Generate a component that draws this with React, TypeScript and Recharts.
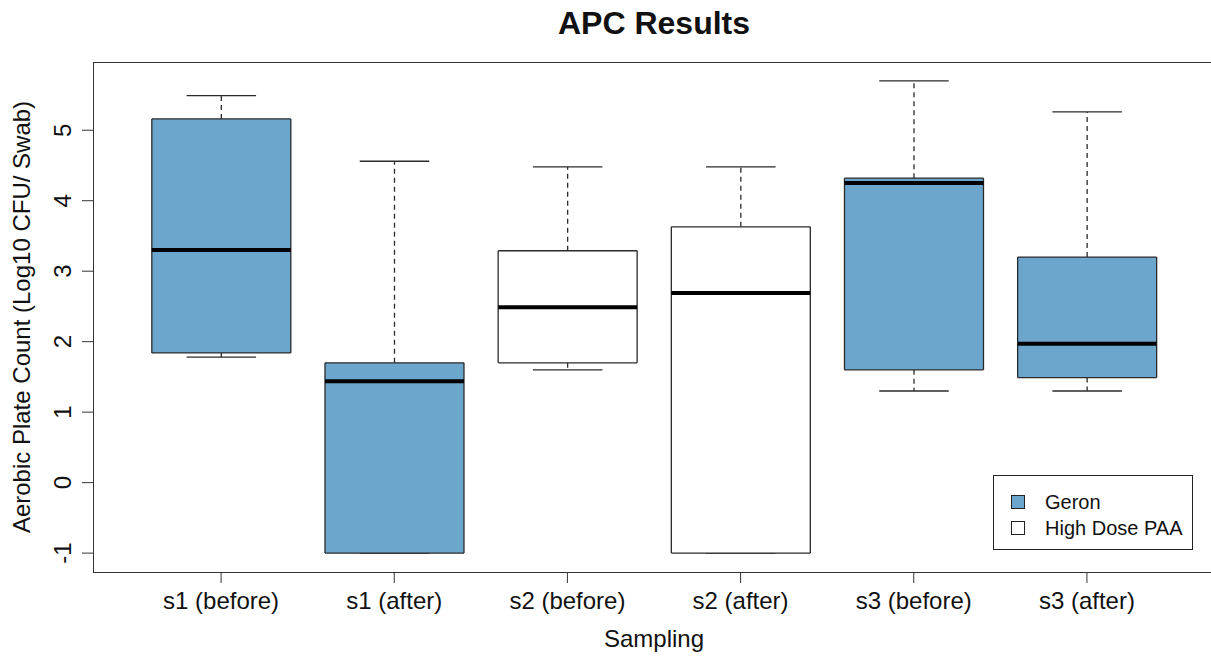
import { Bar, ComposedChart, Legend, XAxis, YAxis } from "recharts";

const categories = ["s1 (before)", "s1 (after)", "s2 (before)", "s2 (after)", "s3 (before)", "s3 (after)"];
const groups = ["Geron", "Geron", "High Dose PAA", "High Dose PAA", "Geron", "Geron"];
const whiskerLow = [1.78, -1, 1.6, -1, 1.3, 1.3];
const lowerQuartile = [1.84, -1, 1.7, -1, 1.6, 1.49];
const medians = [3.3, 1.44, 2.49, 2.69, 4.25, 1.97];
const upperQuartile = [5.16, 1.7, 3.29, 3.63, 4.32, 3.2];
const whiskerHigh = [5.49, 4.56, 4.48, 4.48, 5.7, 5.26];
const yTicks = [-1, 0, 1, 2, 3, 4, 5];
const legendItems = ["Geron", "High Dose PAA"];

const groupFill: Record<string, string> = { Geron: "#6CA6CD", "High Dose PAA": "#FFFFFF" };
const FONT = "'Liberation Sans', Arial, sans-serif";
const EDGE = "#2a2a2a";

// stacked segments: invisible base, lower whisker, lower half box, upper half box, upper whisker
const rows = categories.map((name, i) => ({
	name,
	group: groups[i],
	base: whiskerLow[i],
	lowWhisker: lowerQuartile[i] - whiskerLow[i],
	lowBox: medians[i] - lowerQuartile[i],
	highBox: upperQuartile[i] - medians[i],
	highWhisker: whiskerHigh[i] - upperQuartile[i],
}));

const Empty = () => <g />;

function LowWhisker(props: any) {
	const { x, y, width, height } = props;
	const cx = x + width / 2;
	const bottom = y + height;
	return (
		<g>
			<line x1={cx} x2={cx} y1={y} y2={bottom} stroke={EDGE} strokeWidth={1.3} strokeDasharray="5 4" />
			<line x1={cx - width / 4} x2={cx + width / 4} y1={bottom} y2={bottom} stroke={EDGE} strokeWidth={1.3} />
		</g>
	);
}

function HighWhisker(props: any) {
	const { x, y, width, height } = props;
	const cx = x + width / 2;
	const bottom = y + height;
	return (
		<g>
			<line x1={cx} x2={cx} y1={bottom} y2={y} stroke={EDGE} strokeWidth={1.3} strokeDasharray="5 4" />
			<line x1={cx - width / 4} x2={cx + width / 4} y1={y} y2={y} stroke={EDGE} strokeWidth={1.3} />
		</g>
	);
}

function LowBox(props: any) {
	const { x, y, width, height, payload } = props;
	const bottom = y + height;
	return (
		<g>
			<rect x={x} y={y} width={width} height={height} fill={groupFill[payload.group]} />
			<line x1={x} x2={x} y1={y} y2={bottom} stroke={EDGE} strokeWidth={1.3} />
			<line x1={x + width} x2={x + width} y1={y} y2={bottom} stroke={EDGE} strokeWidth={1.3} />
			<line x1={x} x2={x + width} y1={bottom} y2={bottom} stroke={EDGE} strokeWidth={1.3} />
		</g>
	);
}

function HighBox(props: any) {
	const { x, y, width, height, payload } = props;
	const bottom = y + height;
	return (
		<g>
			<rect x={x} y={y} width={width} height={height} fill={groupFill[payload.group]} />
			<line x1={x} x2={x} y1={y} y2={bottom} stroke={EDGE} strokeWidth={1.3} />
			<line x1={x + width} x2={x + width} y1={y} y2={bottom} stroke={EDGE} strokeWidth={1.3} />
			<line x1={x} x2={x + width} y1={y} y2={y} stroke={EDGE} strokeWidth={1.3} />
			<line x1={x} x2={x + width} y1={bottom} y2={bottom} stroke="#000" strokeWidth={4} />
		</g>
	);
}

function YTick(props: any) {
	const { x, y, payload } = props;
	return (
		<text x={x} y={y} transform={`rotate(-90, ${x}, ${y})`} textAnchor="middle" fontSize={24} fill="#111">
			{payload.value}
		</text>
	);
}

function LegendBox() {
	return (
		<div
			style={{
				border: "1px solid #222",
				width: 200,
				height: 75,
				boxSizing: "border-box",
				background: "#fff",
				padding: "13px 0 0 17px",
				fontFamily: FONT,
			}}
		>
			{legendItems.map((item) => (
				<div key={item} style={{ display: "flex", alignItems: "center", height: 26, fontSize: 20, color: "#111" }}>
					<span
						style={{
							width: 12,
							height: 12,
							border: "1px solid #222",
							background: groupFill[item],
							marginRight: 20,
							display: "inline-block",
						}}
					/>
					{item}
				</div>
			))}
		</div>
	);
}

export default function App() {
	return (
		<div
			style={{
				position: "absolute",
				left: 0,
				top: 0,
				width: 1211,
				height: 659,
				overflow: "hidden",
				background: "#fff",
				fontFamily: FONT,
			}}
		>
			<div
				style={{
					position: "absolute",
					left: 93,
					top: 7,
					width: 1122,
					textAlign: "center",
					fontSize: 32,
					lineHeight: "32px",
					fontWeight: "bold",
					color: "#111",
				}}
			>
				APC Results
			</div>
			<ComposedChart
				width={1216}
				height={659}
				data={rows}
				margin={{ top: 62, right: 1, bottom: 0, left: 0 }}
				stackOffset="none"
				barCategoryGap="10%"
			>
				<XAxis
					dataKey="name"
					height={87}
					padding={{ left: 41.5, right: 41.5 }}
					axisLine={false}
					tickSize={11}
					tickMargin={9}
					tickLine={{ stroke: "#333" }}
					tick={{ fontSize: 24, fill: "#111" }}
					interval={0}
					label={{ value: "Sampling", position: "insideBottom", offset: 12, style: { fontSize: 24, fill: "#111" } }}
				/>
				<YAxis
					type="number"
					domain={[-1.268, 5.968]}
					ticks={yTicks}
					allowDataOverflow
					width={93}
					axisLine={false}
					tickSize={11}
					tickMargin={11}
					tickLine={{ stroke: "#333" }}
					tick={<YTick />}
					label={{
						value: "Aerobic Plate Count (Log10 CFU/ Swab)",
						angle: -90,
						position: "insideLeft",
						offset: 21,
						style: { textAnchor: "middle", fontSize: 24, fill: "#111" },
					}}
				/>
				<Bar dataKey="base" stackId="box" shape={<Empty />} isAnimationActive={false} />
				<Bar dataKey="lowWhisker" stackId="box" shape={<LowWhisker />} isAnimationActive={false} />
				<Bar dataKey="lowBox" stackId="box" shape={<LowBox />} isAnimationActive={false} />
				<Bar dataKey="highBox" stackId="box" shape={<HighBox />} isAnimationActive={false} />
				<Bar dataKey="highWhisker" stackId="box" shape={<HighWhisker />} isAnimationActive={false} />
				<Legend
					layout="horizontal"
					verticalAlign="middle"
					content={() => <LegendBox />}
					wrapperStyle={{ left: 993, top: 475, width: 200, height: 75 }}
				/>
			</ComposedChart>
			<div
				style={{
					position: "absolute",
					left: 93,
					top: 62,
					width: 1123,
					height: 511,
					boxSizing: "border-box",
					border: "1px solid #333",
					pointerEvents: "none",
				}}
			/>
		</div>
	);
}
